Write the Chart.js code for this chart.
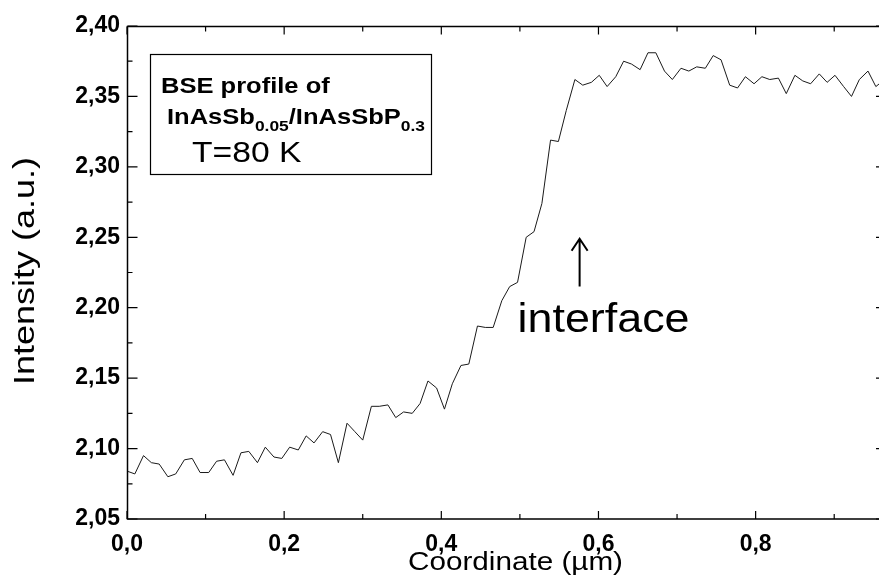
<!DOCTYPE html>
<html>
<head>
<meta charset="utf-8">
<script src="https://cdn.jsdelivr.net/npm/chart.js@4.4.1/dist/chart.umd.min.js"></script>
<style>
  html, body { margin: 0; padding: 0; background: #fff; }
  #wrap { width: 879px; height: 584px; }
</style>
</head>
<body>
<div id="wrap"><canvas id="bse" width="879" height="584"></canvas></div>
<script>
const FONT = "'Liberation Sans', Arial, Helvetica, sans-serif";

// BSE line scan, coordinate in µm
const coordUm = [
  0.000, 0.010, 0.021, 0.031, 0.041, 0.052, 0.062, 0.073, 0.083, 0.093,
  0.104, 0.114, 0.124, 0.135, 0.145, 0.155, 0.166, 0.176, 0.187, 0.197,
  0.207, 0.218, 0.228, 0.238, 0.249, 0.259, 0.269, 0.280, 0.290, 0.300,
  0.311, 0.321, 0.332, 0.342, 0.352, 0.363, 0.373, 0.383, 0.394, 0.404,
  0.414, 0.425, 0.435, 0.446, 0.456, 0.466, 0.477, 0.487, 0.497, 0.508,
  0.518, 0.528, 0.539, 0.549, 0.559, 0.570, 0.580, 0.591, 0.601, 0.611,
  0.622, 0.632, 0.642, 0.653, 0.663, 0.673, 0.684, 0.694, 0.705, 0.715,
  0.725, 0.736, 0.746, 0.756, 0.767, 0.777, 0.787, 0.798, 0.808, 0.818,
  0.829, 0.839, 0.850, 0.860, 0.870, 0.881, 0.891, 0.901, 0.912, 0.922,
  0.932, 0.943, 0.953, 0.964
];
const intensity = [
  2.084, 2.082, 2.095, 2.090, 2.089, 2.080, 2.082, 2.092, 2.093, 2.083,
  2.083, 2.091, 2.092, 2.081, 2.097, 2.098, 2.090, 2.101, 2.094, 2.093,
  2.101, 2.099, 2.109, 2.104, 2.112, 2.110, 2.090, 2.118, 2.112, 2.106,
  2.130, 2.130, 2.131, 2.122, 2.126, 2.125, 2.132, 2.148, 2.143, 2.128,
  2.146, 2.159, 2.160, 2.187, 2.186, 2.186, 2.205, 2.215, 2.218, 2.250,
  2.254, 2.274, 2.319, 2.318, 2.340, 2.362, 2.358, 2.360, 2.365, 2.357,
  2.364, 2.375, 2.373, 2.369, 2.381, 2.381, 2.368, 2.362, 2.370, 2.368,
  2.371, 2.370, 2.379, 2.376, 2.358, 2.356, 2.364, 2.359, 2.364, 2.362,
  2.363, 2.352, 2.365, 2.361, 2.359, 2.366, 2.360, 2.365, 2.357, 2.350,
  2.362, 2.368, 2.357, 2.362
];

const xTickValues = [0, 0.2, 0.4, 0.6, 0.8];
const xTickLabels = ["0,0", "0,2", "0,4", "0,6", "0,8"];
const yTickValues = [2.05, 2.10, 2.15, 2.20, 2.25, 2.30, 2.35, 2.40];
const yTickLabels = ["2,05", "2,10", "2,15", "2,20", "2,25", "2,30", "2,35", "2,40"];

const X_MAX = 0.957;

// text stretched along its own direction (the original lettering is wide)
function wideText(ctx, text, x, y, font, sx) {
  ctx.font = font;
  ctx.save();
  ctx.translate(x, y);
  ctx.scale(sx, 1);
  ctx.fillText(text, 0, 0);
  ctx.restore();
  return ctx.measureText(text).width * sx;
}

function fitText(ctx, text, x, y, font, width) {
  ctx.font = font;
  const sx = width / ctx.measureText(text).width;
  return wideText(ctx, text, x, y, font, sx);
}

const frame = {
  id: "frame",
  afterDraw(chart) {
    const { ctx, chartArea: a, scales: { x, y } } = chart;
    ctx.save();
    ctx.strokeStyle = "#000";
    ctx.fillStyle = "#000";
    ctx.lineWidth = 1.5;
    const L = a.left + 0.5, R = a.right, T = a.top + 0.5, B = a.bottom;
    // right axis lies just outside the picture
    ctx.beginPath();
    ctx.moveTo(R, T); ctx.lineTo(L, T); ctx.lineTo(L, B); ctx.lineTo(R, B);
    ctx.stroke();

    // inward ticks
    ctx.lineWidth = 1.2;
    ctx.beginPath();
    for (let i = 0; i < xTickValues.length; i++) {
      const major = x.getPixelForValue(xTickValues[i]);
      const minor = x.getPixelForValue(xTickValues[i] + 0.1);
      ctx.moveTo(major, B); ctx.lineTo(major, B - 8);
      ctx.moveTo(major, T); ctx.lineTo(major, T + 8);
      if (minor < R) {
        ctx.moveTo(minor, B); ctx.lineTo(minor, B - 5);
        ctx.moveTo(minor, T); ctx.lineTo(minor, T + 5);
      }
    }
    for (let i = 0; i < yTickValues.length; i++) {
      const major = y.getPixelForValue(yTickValues[i]);
      ctx.moveTo(L, major); ctx.lineTo(L + 10, major);
      ctx.moveTo(R, major); ctx.lineTo(R - 3, major);
      if (i < yTickValues.length - 1) {
        const minor = y.getPixelForValue(yTickValues[i] + 0.025);
        ctx.moveTo(L, minor); ctx.lineTo(L + 5, minor);
      }
    }
    ctx.stroke();

    // axis titles
    ctx.textBaseline = "alphabetic";
    ctx.textAlign = "left";
    fitText(ctx, "Coordinate (\u00b5m)", 408, 570, `25px ${FONT}`, 215);
    ctx.save();
    ctx.translate(34, 385);
    ctx.rotate(-Math.PI / 2);
    fitText(ctx, "Intensity (a.u.)", 0, 0, `29px ${FONT}`, 228);
    ctx.restore();

    // sample box
    ctx.fillStyle = "#fff";
    ctx.fillRect(150, 54, 281, 120);
    ctx.lineWidth = 1.2;
    ctx.strokeRect(150.5, 54.5, 281, 120);
    ctx.fillStyle = "#000";
    const sx = 1.16;
    wideText(ctx, "BSE profile of", 161, 93, `bold 22px ${FONT}`, sx);
    let cx = 167;
    cx += wideText(ctx, "InAsSb", cx, 124, `bold 22px ${FONT}`, sx);
    cx += wideText(ctx, "0.05", cx, 131, `bold 15px ${FONT}`, sx);
    cx += wideText(ctx, "/InAsSbP", cx, 124, `bold 22px ${FONT}`, sx);
    wideText(ctx, "0.3", cx, 131, `bold 15px ${FONT}`, sx);
    wideText(ctx, "T=80 K", 192, 162, `29px ${FONT}`, sx);

    // interface marker
    const ax = x.getPixelForValue(0.576);
    const aTop = y.getPixelForValue(2.249);
    const aBot = y.getPixelForValue(2.215);
    ctx.lineWidth = 2;
    ctx.beginPath();
    ctx.moveTo(ax, aBot); ctx.lineTo(ax, aTop + 1);
    ctx.moveTo(ax - 8, aTop + 12); ctx.lineTo(ax, aTop); ctx.lineTo(ax + 8, aTop + 12);
    ctx.stroke();
    fitText(ctx, "interface", x.getPixelForValue(0.497), y.getPixelForValue(2.183), `40px ${FONT}`, 172);
    ctx.restore();
  }
};

new Chart(document.getElementById("bse"), {
  type: "line",
  data: {
    datasets: [{
      data: coordUm.map((c, i) => ({ x: c, y: intensity[i] })),
      borderColor: "#1a1a1a",
      borderWidth: 1,
      pointRadius: 0,
      tension: 0,
      fill: false
    }]
  },
  options: {
    responsive: false,
    animation: false,
    events: [],
    layout: { padding: { top: 26, right: 0, left: 0, bottom: 0 } },
    plugins: { legend: { display: false }, tooltip: { enabled: false } },
    scales: {
      x: {
        type: "linear",
        min: 0,
        max: X_MAX,
        afterFit: (s) => { s.height = 65; },
        afterBuildTicks: (s) => { s.ticks = xTickValues.map((v) => ({ value: v })); },
        grid: { display: false, drawTicks: false },
        border: { display: false },
        ticks: {
          padding: 12,
          color: "#000",
          maxRotation: 0,
          autoSkip: false,
          font: { family: FONT, size: 23, weight: "bold" },
          callback: (v, i) => xTickLabels[i]
        }
      },
      y: {
        type: "linear",
        min: 2.05,
        max: 2.40,
        afterFit: (s) => { s.width = 127; },
        afterBuildTicks: (s) => { s.ticks = yTickValues.map((v) => ({ value: v })); },
        grid: { display: false, drawTicks: false },
        border: { display: false },
        ticks: {
          padding: 7,
          color: "#000",
          autoSkip: false,
          font: { family: FONT, size: 23, weight: "bold" },
          callback: (v, i) => yTickLabels[i]
        }
      }
    }
  },
  plugins: [frame]
});
</script>
</body>
</html>
